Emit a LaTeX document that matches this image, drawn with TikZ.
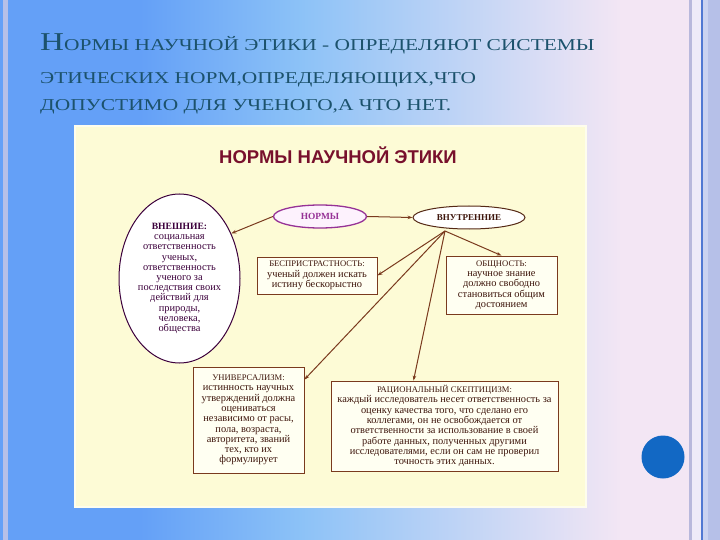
\documentclass[tikz,border=0pt]{standalone}
\usepackage{graphicx}
\usepackage{fontspec}
\setmainfont{Liberation Serif}
\newfontfamily\arialfont{Liberation Sans}
\usetikzlibrary{shapes.geometric,arrows.meta}
\definecolor{slideblue}{RGB}{100,160,247}
\definecolor{slidemid}{RGB}{140,194,247}
\definecolor{slidepink}{RGB}{243,230,244}
\definecolor{titleteal}{RGB}{28,82,108}
\definecolor{panelyellow}{RGB}{253,251,214}
\definecolor{boxfill}{RGB}{255,255,242}
\definecolor{linebrown}{RGB}{122,58,30}
\definecolor{textbrown}{RGB}{62,22,12}
\definecolor{headred}{RGB}{120,16,44}
\definecolor{normpurple}{RGB}{150,50,150}
\definecolor{normfill}{RGB}{253,242,253}
\definecolor{vneshpurple}{RGB}{60,0,60}
\definecolor{dotblue}{RGB}{18,104,196}
\definecolor{stripe}{RGB}{182,192,232}
\definecolor{edgelav}{RGB}{184,184,220}
\definecolor{edgelight}{RGB}{238,234,248}
\definecolor{edgeblue}{RGB}{80,120,210}
\definecolor{edgepale}{RGB}{202,210,240}
\newcommand{\initialsize}{\fontsize{25.7}{26}\selectfont}
\newcommand{\capsize}{\fontsize{16.6}{17}\selectfont}
\newcommand{\boxhead}[1]{{\fontsize{8.6}{10.3}\selectfont #1}}
\begin{document}
\begin{tikzpicture}[x=1pt, y=-1pt,
    titleline/.style={anchor=base west, inner sep=0, text=titleteal},
    normbox/.style={draw=linebrown, line width=0.9pt, fill=boxfill, text=textbrown,
        align=center, inner sep=1pt, font=\fontsize{10.4}{10.3}\selectfont},
    ellbase/.style={ellipse, inner sep=0, align=center},
    arr/.style={draw=linebrown, line width=1pt, -{Stealth[length=5pt,width=3.5pt]}}]
    \useasboundingbox (0,0) rectangle (720,540);
    % slide background
    \fill[slideblue] (0,0) rectangle (141,540);
    \shade[left color=slideblue, right color=slidemid] (140,0) rectangle (301,540);
    \shade[left color=slidemid, right color=slidepink] (300,0) rectangle (621,540);
    \fill[slidepink] (620,0) rectangle (720,540);
    \fill[stripe] (3,0) rectangle (8,540);
    \fill[edgelav] (689,0) rectangle (692,540);
    \fill[edgelight] (692,0) rectangle (701,540);
    \fill[edgeblue] (701,0) rectangle (702.5,540);
    \fill[edgepale] (702.5,0) rectangle (708,540);
    \fill[stripe] (708,0) rectangle (720,540);
    \fill[dotblue] (663,457) circle (21.5);

    \node[titleline] (line1) at (40,51)
        {\scalebox{1.29}[1]{\initialsize Н\capsize ОРМЫ НАУЧНОЙ ЭТИКИ - ОПРЕДЕЛЯЮТ СИСТЕМЫ}};
    \node[titleline] (line2) at (40,84)
        {\scalebox{1.29}[1]{\capsize ЭТИЧЕСКИХ НОРМ,ОПРЕДЕЛЯЮЩИХ,ЧТО}};
    \node[titleline] (line3) at (40,111)
        {\scalebox{1.29}[1]{\capsize ДОПУСТИМО ДЛЯ УЧЕНОГО,А ЧТО НЕТ.}};

    % yellow panel
    \fill[panelyellow] (74,125) rectangle (587,508);
    \draw[white!55!panelyellow, line width=2pt] (75,126) rectangle (586,507);

    \node[font=\arialfont\bfseries\fontsize{18.5}{20}\selectfont, text=headred] (head) at (338,155)
        {НОРМЫ НАУЧНОЙ ЭТИКИ};

    \node[ellbase, draw=normpurple, line width=1.3pt, fill=normfill, text=normpurple,
        minimum width=93pt, minimum height=23pt, font=\bfseries\fontsize{9.4}{10}\selectfont] (norm) at (320,216.5) {НОРМЫ};
    \node[ellbase, draw=linebrown!70!black, line width=1pt, fill=white, text=textbrown,
        minimum width=112pt, minimum height=23pt, font=\bfseries\fontsize{9}{10}\selectfont] (vnutr) at (469,217.5) {ВНУТРЕННИЕ};
    \node[ellbase, draw=vneshpurple, line width=1pt, fill=white, text=vneshpurple,
        minimum width=121pt, minimum height=169pt, font=\fontsize{10.4}{10.2}\selectfont] (vnesh) at (179.5,278.5)
        {{\bfseries\fontsize{9.6}{10.2}\selectfont ВНЕШНИЕ:}\\социальная\\ответственность\\ученых,\\ответственность\\ученого за\\последствия своих\\действий для\\природы,\\человека,\\общества};

    \node[normbox, minimum width=120pt, minimum height=37pt] (bespr) at (317,275.5)
        {\boxhead{БЕСПРИСТРАСТНОСТЬ:}\\ученый должен искать\\истину бескорыстно};
    \node[normbox, minimum width=111pt, minimum height=58pt] (obsh) at (501.5,285)
        {\boxhead{ОБЩНОСТЬ:}\\научное знание\\должно свободно\\становиться общим\\достоянием};
    \node[normbox, minimum width=111pt, minimum height=106pt] (univ) at (248.5,420)
        {\boxhead{УНИВЕРСАЛИЗМ:}\\истинность научных\\утверждений должна\\оцениваться\\независимо от расы,\\пола, возраста,\\авторитета, званий\\тех, кто их\\формулирует};
    \node[normbox, minimum width=227pt, minimum height=90pt] (ratio) at (444.5,426)
        {\boxhead{РАЦИОНАЛЬНЫЙ СКЕПТИЦИЗМ:}\\каждый исследователь несет ответственность за\\оценку качества того, что сделано его\\коллегами, он не освобождается от\\ответственности за использование в своей\\работе данных, полученных другими\\исследователями, если он сам не проверил\\точность этих данных.};

    \draw[arr] (norm.west) -- (vnesh.41);
    \draw[arr] (norm.east) -- (vnutr.west);
    \coordinate (hub) at (445,231);
    \foreach \target in {(bespr.east), (obsh.north), ([yshift=-13pt]univ.north east), ([xshift=-31pt]ratio.north)} {
        \draw[arr] (hub) -- \target;
        }
\end{tikzpicture}
\end{document}
